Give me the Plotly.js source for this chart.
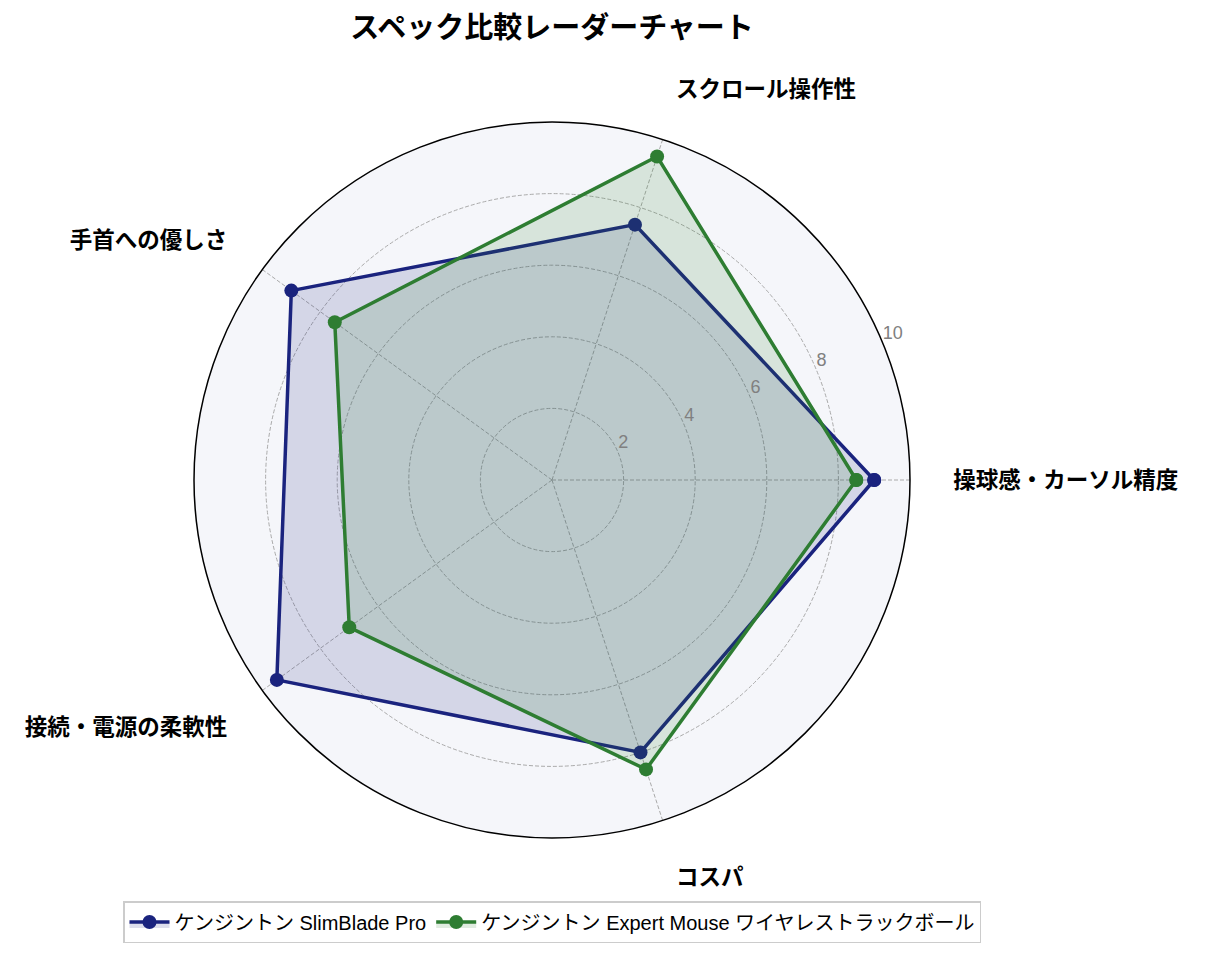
<!DOCTYPE html>
<html>
<head>
<meta charset="utf-8">
<script src="https://cdn.plot.ly/plotly-3.0.1.min.js"></script>
<style>body{margin:0;background:#fff}#chart{width:1205px;height:956px}</style>
</head>
<body>
<div id="chart"></div>
<script>
var categories = ['操球感・カーソル精度', 'スクロール操作性', '手首への優しさ', '接続・電源の柔軟性', 'コスパ'];
var seriesNames = ['ケンジントン SlimBlade Pro', 'ケンジントン Expert Mouse ワイヤレストラックボール'];
var slimBlade = [9.0, 7.5, 9.0, 9.5, 8.0];
var expertMouse = [8.5, 9.5, 7.5, 7.0, 8.5];
var radialTicks = [2, 4, 6, 8, 10];
var radialLabelAngle = 22.5;
var lineColours = ['#1a237e', '#2e7d32'];
var fillColours = ['rgba(26,35,126,0.15)', 'rgba(46,125,50,0.15)'];

var latinFont = 'Liberation Sans, Noto Sans CJK JP, sans-serif';
var cjkFont = 'Noto Sans CJK JP, sans-serif';

function closed(arr) {
  return arr.concat([arr[0]]);
}

function seriesTrace(values, i) {
  return {
    type: 'scatterpolar',
    subplot: 'polar',
    r: closed(values),
    theta: closed(categories),
    name: seriesNames[i],
    mode: 'lines+markers',
    fill: 'toself',
    fillcolor: fillColours[i],
    line: {color: lineColours[i], width: 3.5},
    marker: {color: lineColours[i], size: 14}
  };
}

// horizontal radial tick labels on an overlaid polar
var tickTrace = {
  type: 'scatterpolar',
  subplot: 'polar2',
  r: radialTicks,
  theta: radialTicks.map(function() { return radialLabelAngle; }),
  text: radialTicks.map(String),
  mode: 'text',
  textposition: 'top right',
  textfont: {family: latinFont, size: 18, color: '#808080'},
  showlegend: false,
  hoverinfo: 'skip'
};

var domain = {x: [194 / 1205, 910 / 1205], y: [1 - 838 / 956, 1 - 122 / 956]};

var layout = {
  width: 1205,
  height: 956,
  margin: {l: 0, r: 0, t: 0, b: 0},
  paper_bgcolor: '#ffffff',
  font: {family: cjkFont, color: '#000'},
  title: {
    text: '<b>スペック比較レーダーチャート</b>',
    font: {size: 29, color: '#000', family: cjkFont},
    x: 552 / 1205, xanchor: 'center',
    y: 1 - 28 / 956, yanchor: 'middle'
  },
  polar: {
    domain: domain,
    bgcolor: '#f5f6fa',
    angularaxis: {
      rotation: 0,
      direction: 'counterclockwise',
      showline: true,
      linecolor: '#000',
      linewidth: 1.5,
      gridcolor: '#aaaaaa',
      griddash: '4px,2px',
      gridwidth: 1,
      ticks: 'outside',
      ticklen: 38,
      tickcolor: 'rgba(0,0,0,0)',
      tickfont: {size: 22.5, color: '#000', family: cjkFont, weight: 'bold'}
    },
    radialaxis: {
      range: [0, 10],
      tickvals: radialTicks,
      angle: radialLabelAngle,
      showline: false,
      showticklabels: false,
      ticks: '',
      gridcolor: '#aaaaaa',
      griddash: '4px,2px',
      gridwidth: 1
    }
  },
  polar2: {
    domain: domain,
    bgcolor: 'rgba(0,0,0,0)',
    angularaxis: {visible: false, rotation: 0, direction: 'counterclockwise'},
    radialaxis: {visible: false, range: [0, 10]}
  },
  showlegend: true,
  legend: {
    orientation: 'h',
    x: 552 / 1205, xanchor: 'center',
    y: 1 - 922 / 956, yanchor: 'middle',
    bordercolor: '#cccccc',
    borderwidth: 1.5,
    bgcolor: '#fff',
    itemwidth: 40,
    font: {size: 20, color: '#000', family: latinFont}
  }
};

Plotly.newPlot('chart', [seriesTrace(slimBlade, 0), seriesTrace(expertMouse, 1), tickTrace], layout, {displayModeBar: false});
</script>
</body>
</html>
